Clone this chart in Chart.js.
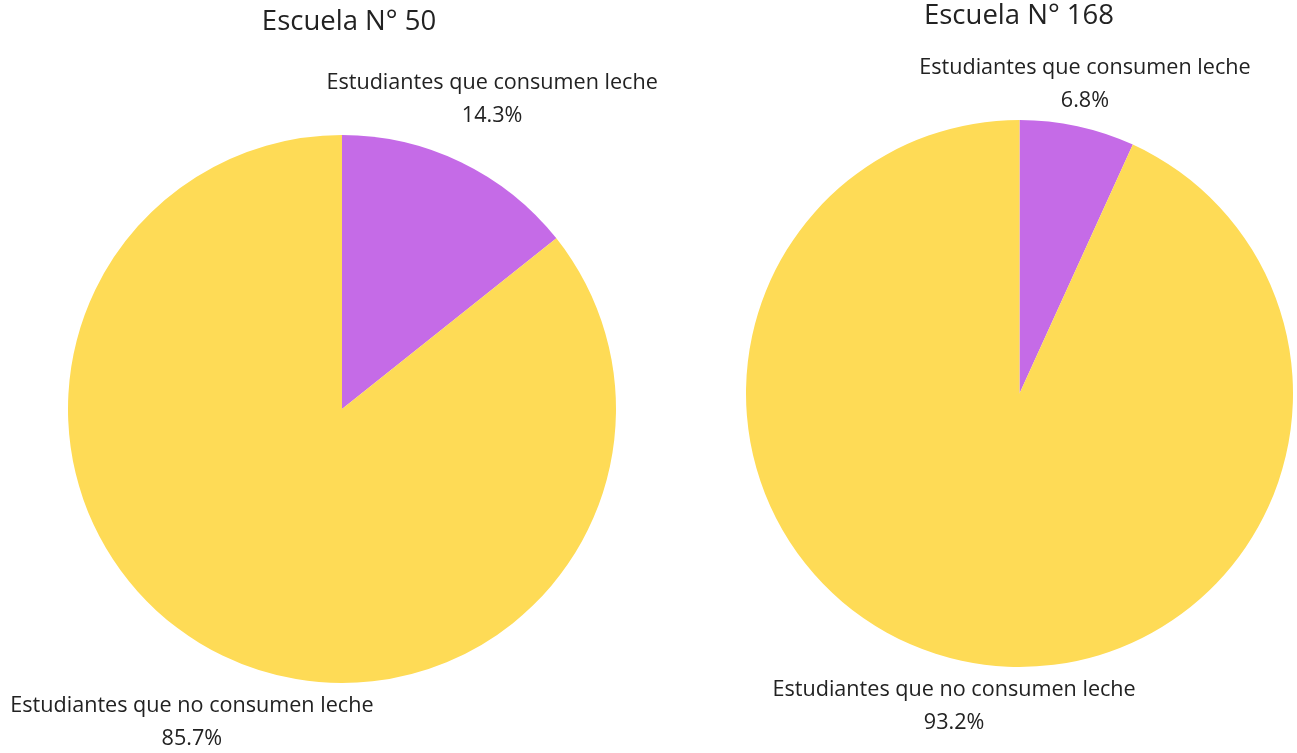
<!DOCTYPE html>
<html>
<head>
<meta charset="utf-8">
<script src="https://cdn.jsdelivr.net/npm/chart.js@4.4.1/dist/chart.umd.min.js"></script>
<style>
  body { margin: 0; background: #fff; }
  #wrap { position: relative; width: 1297px; height: 753px; }
  .box { position: absolute; left: 0; top: 0; width: 1297px; height: 753px; }
</style>
</head>
<body>
<div id="wrap">
  <div class="box"><canvas id="pie50"></canvas></div>
  <div class="box"><canvas id="pie168"></canvas></div>
</div>
<script>
const categories = ["Estudiantes que consumen leche", "Estudiantes que no consumen leche"];
const school50 = [14.3, 85.7];
const school168 = [6.8, 93.2];
const titles = ["Escuela N° 50", "Escuela N° 168"];
const colors = ["#C56BE7", "#FEDB56"];

const FONT = "'Open Sans', 'Noto Sans', sans-serif";

// draws the chart title and the two-line labels outside each slice
const outsideLabels = {
  id: "outsideLabels",
  afterDraw(chart, args, opts) {
    const ctx = chart.ctx;
    const meta = chart.getDatasetMeta(0);
    const values = chart.data.datasets[0].data;
    ctx.save();
    ctx.fillStyle = "#222";
    ctx.textAlign = "center";
    ctx.textBaseline = "middle";

    ctx.font = "27.5px " + FONT;
    ctx.fillText(opts.title, opts.titleX, opts.titleY);

    ctx.font = "21.6px " + FONT;
    meta.data.forEach((arc, i) => {
      const p = arc.getProps(["x", "y", "startAngle", "endAngle", "outerRadius"], true);
      const mid = (p.startAngle + p.endAngle) / 2;
      const c = Math.cos(mid);
      const x = p.x + p.outerRadius * c + 165 * c * Math.abs(c);
      let y1;
      if (Math.sin(mid) < 0) {
        y1 = p.y - p.outerRadius - 52;
      } else {
        y1 = p.y + p.outerRadius + 23;
      }
      ctx.fillText(chart.data.labels[i], x, y1);
      ctx.fillText(values[i].toFixed(1) + "%", x, y1 + 33);
    });
    ctx.restore();
  }
};

function makePie(id, values, title, padding, titleX, titleY) {
  return new Chart(document.getElementById(id), {
    type: "pie",
    data: {
      labels: categories,
      datasets: [{
        data: values,
        backgroundColor: colors,
        borderWidth: 0
      }]
    },
    options: {
      responsive: true,
      maintainAspectRatio: false,
      animation: false,
      layout: { padding: padding },
      plugins: {
        legend: { display: false },
        tooltip: { enabled: false },
        outsideLabels: { title: title, titleX: titleX, titleY: titleY }
      }
    },
    plugins: [outsideLabels]
  });
}

makePie("pie50", school50, titles[0], { left: 68, right: 681, top: 135, bottom: 70 }, 349, 22);
makePie("pie168", school168, titles[1], { left: 746, right: 4, top: 120, bottom: 86 }, 1019, 16);
</script>
</body>
</html>
